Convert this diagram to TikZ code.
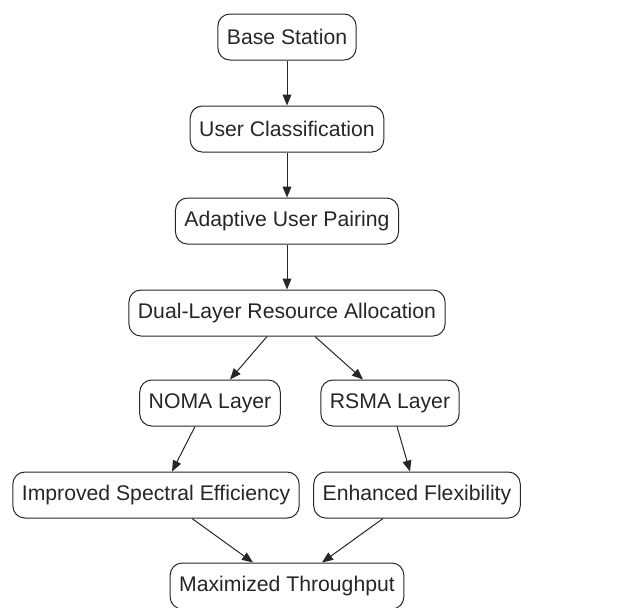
\documentclass[tikz,border=0pt]{standalone}
\usepackage{fontspec}
\setmainfont{Liberation Sans}
\usetikzlibrary{arrows.meta}

\begin{document}
\begin{tikzpicture}[x=0.5pt, y=-0.5pt, line width=0.5pt, color=black!85,
            nodes={draw, rounded corners=6pt, minimum height=23pt, inner xsep=4.5pt,
                   font=\fontsize{10.6}{12}\selectfont},
            node distance=46pt,
            >={Triangle[length=5.5pt, width=4.4pt]}]
        \useasboundingbox (0,0) rectangle (635,607);

        % main chain
        \node (base) at (287,37) {Base Station};
        \node (user) [below of=base] {User Classification};
        \node (pair) [below of=user] {Adaptive User Pairing};
        \node (dual) [below of=pair] {Dual-Layer Resource Allocation};
        \draw [->] (base) -- (user);
        \draw [->] (user) -- (pair);
        \draw [->] (pair) -- (dual);

        % two layers
        \node (noma) at (210,403) {NOMA Layer};
        \node (rsma) at (390,403) {RSMA Layer};
        \draw [->] ([xshift=-10pt]dual.south) -- ([xshift=10pt]noma.north);
        \draw [->] ([xshift=14pt]dual.south) -- ([xshift=-13.5pt]rsma.north);

        % gains
        \node (spec) at (156,495) {Improved Spectral Efficiency};
        \node (flex) at (417,495) {Enhanced Flexibility};
        \draw [->] ([xshift=-7.5pt]noma.south) -- ([xshift=8pt]spec.north);
        \draw [->] ([xshift=3.5pt]rsma.south) -- ([xshift=-3.5pt]flex.north);

        \node (thru) at (287,586) {Maximized Throughput};
        \draw [->] ([xshift=18pt]spec.south) -- ([xshift=-17pt]thru.north);
        \draw [->] ([xshift=-17pt]flex.south) -- ([xshift=17.5pt]thru.north);
    \end{tikzpicture}
\end{document}
